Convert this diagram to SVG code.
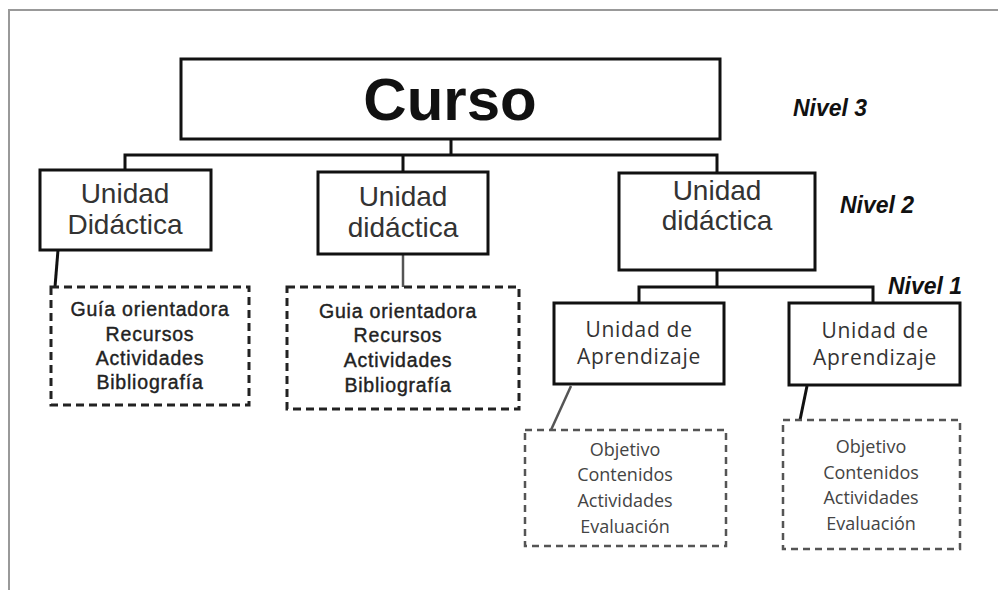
<svg xmlns="http://www.w3.org/2000/svg" width="998" height="590" viewBox="0 0 998 590">
<style>
.box{fill:#fff;stroke:#111;stroke-width:3}
.dash{fill:#fff;stroke:#222;stroke-width:3;stroke-dasharray:8 5}
.dashg{fill:#fff;stroke:#555;stroke-width:2.5;stroke-dasharray:7 5}
.t2{font-family:"Liberation Sans",Arial,sans-serif;font-size:28px;fill:#333;text-anchor:middle}
.t1{font-family:"Open Sans","DejaVu Sans",sans-serif;font-size:21px;letter-spacing:0.7px;fill:#333;text-anchor:middle}
.tl{font-family:"Liberation Sans",Arial,sans-serif;font-size:19.5px;letter-spacing:0.8px;fill:#222;text-anchor:middle;stroke:#222;stroke-width:0.4}
.tg{font-family:"Open Sans","DejaVu Sans",sans-serif;font-size:18px;fill:#444;text-anchor:middle}
.niv{font-family:"Liberation Sans",Arial,sans-serif;font-size:23px;font-weight:bold;font-style:italic;fill:#111}
.c{fill:none;stroke:#111;stroke-width:3}
.cg{fill:none;stroke:#555;stroke-width:2.5}
</style>
<rect x="0" y="0" width="998" height="590" fill="#fff"/>
<path d="M9 590 V10 H998" fill="none" stroke="#999" stroke-width="2"/>
<g id="connectors">
<path class="c" d="M451 139 V155 M125 170 V155 H717 V173 M403 155 V172"/>
<path class="cg" d="M403 254 V287"/>
<path class="c" d="M58 250 L55 287"/>
<path class="c" d="M717 270 V287 M639 302 V287 H873 V302"/>
<path class="cg" d="M571 386 L551 430"/>
<path class="c" d="M807 386 L800 420"/>
</g>
<g id="curso">
<rect class="box" x="181" y="59" width="539" height="80"/>
<text x="450" y="120" font-family="Liberation Sans,Arial,sans-serif" font-size="60" font-weight="bold" text-anchor="middle" fill="#111">Curso</text>
</g>
<g id="nivel3"><text class="niv" x="793" y="116">Nivel 3</text></g>
<g id="nivel2"><text class="niv" x="840" y="213">Nivel 2</text></g>
<g id="nivel1"><text class="niv" x="888" y="294">Nivel 1</text></g>
<g id="ud1">
<rect class="box" x="40" y="170" width="171" height="80"/>
<text class="t2" x="125" y="203">Unidad</text>
<text class="t2" x="125" y="234">Didáctica</text>
</g>
<g id="ud2">
<rect class="box" x="318" y="172" width="170" height="82"/>
<text class="t2" x="403" y="206">Unidad</text>
<text class="t2" x="403" y="237">didáctica</text>
</g>
<g id="ud3">
<rect class="box" x="619" y="173" width="196" height="97"/>
<text class="t2" x="717" y="200">Unidad</text>
<text class="t2" x="717" y="230">didáctica</text>
</g>
<g id="ua1">
<rect class="box" x="554" y="303" width="170" height="81"/>
<text class="t1" x="639" y="337">Unidad de</text>
<text class="t1" x="639" y="364">Aprendizaje</text>
</g>
<g id="ua2">
<rect class="box" x="789" y="303" width="171" height="82"/>
<text class="t1" x="875" y="338" font-size="22">Unidad de</text>
<text class="t1" x="875" y="365" font-size="22">Aprendizaje</text>
</g>
<g id="rec1">
<rect class="dash" x="51" y="287" width="198" height="118"/>
<text class="tl" x="150" y="316">Guía orientadora</text>
<text class="tl" x="150" y="341">Recursos</text>
<text class="tl" x="150" y="365">Actividades</text>
<text class="tl" x="150" y="389">Bibliografía</text>
</g>
<g id="rec2">
<rect class="dash" x="287" y="287" width="232" height="122"/>
<text class="tl" x="398" y="318">Guia orientadora</text>
<text class="tl" x="398" y="342">Recursos</text>
<text class="tl" x="398" y="367">Actividades</text>
<text class="tl" x="398" y="392">Bibliografía</text>
</g>
<g id="obj1">
<rect class="dashg" x="525" y="430" width="201" height="116"/>
<text class="tg" x="625" y="456">Objetivo</text>
<text class="tg" x="625" y="481">Contenidos</text>
<text class="tg" x="625" y="507">Actividades</text>
<text class="tg" x="625" y="533">Evaluación</text>
</g>
<g id="obj2">
<rect class="dashg" x="783" y="420" width="177" height="129"/>
<text class="tg" x="871" y="453">Objetivo</text>
<text class="tg" x="871" y="479">Contenidos</text>
<text class="tg" x="871" y="504">Actividades</text>
<text class="tg" x="871" y="530">Evaluación</text>
</g>
</svg>
